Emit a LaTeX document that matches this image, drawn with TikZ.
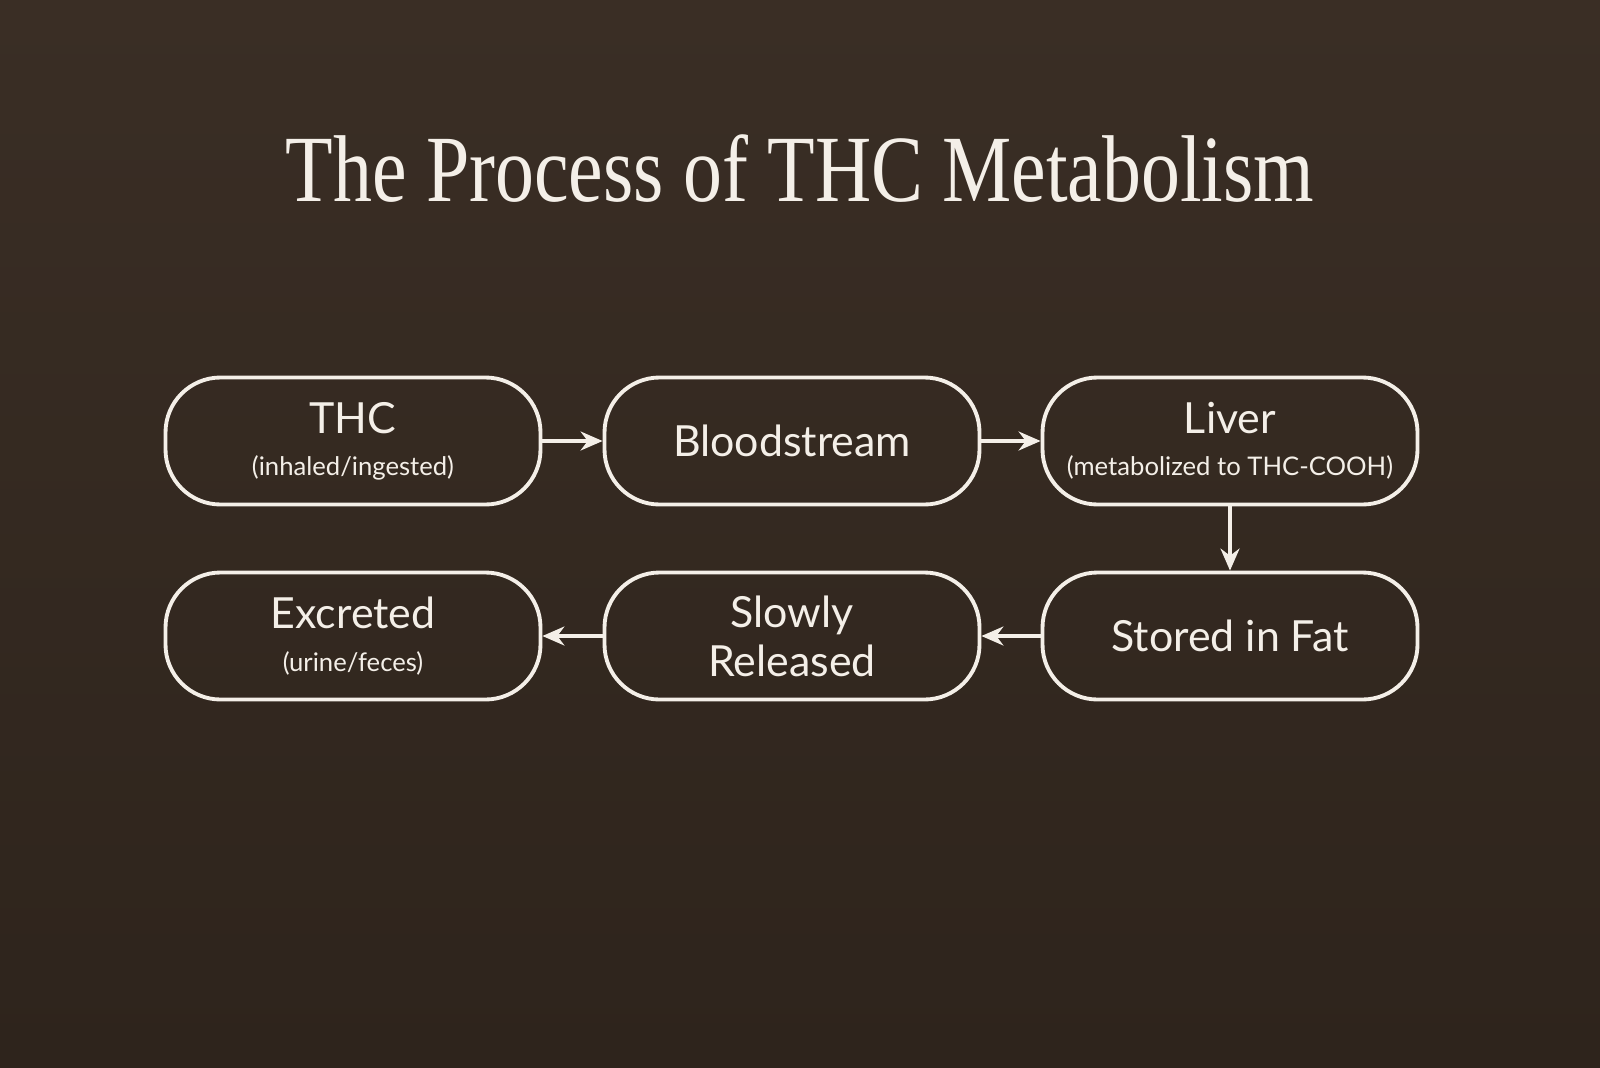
\documentclass[tikz,border=0pt]{standalone}
\usepackage{fontspec}
\usepackage{graphicx}
\setmainfont{Liberation Serif}
\setsansfont{Lato}
\usetikzlibrary{arrows.meta}
\definecolor{bgbrown}{HTML}{3A2E25}
\definecolor{bgdark}{HTML}{2E241C}
\definecolor{linecream}{HTML}{F4EFE8}
\tikzset{
    stage/.style={draw=linecream, line width=1.1pt, rounded corners=0.55cm,
        minimum width=3.75cm, minimum height=1.27cm, inner xsep=2pt, align=center,
        text=linecream, font=\sffamily\fontsize{12.2}{14}\selectfont},
    flow/.style={draw=linecream, line width=0.9pt, -{Stealth[length=2.2mm,width=1.9mm]}}
}
\newcommand{\subtext}[1]{\\[-2pt]{\fontsize{7.3}{9}\selectfont #1}}
\begin{document}
\begin{tikzpicture}
    % Background
    \shade[top color=bgbrown, bottom color=bgdark] (0,0) rectangle (16,10.67);
    \useasboundingbox (0,0) rectangle (16,10.67);

    % Title
    \node[text=linecream, font=\fontsize{27}{30}\selectfont] (title) at (8,8.98)
        {\scalebox{0.82}[1]{The Process of THC Metabolism}};

    % First row
    \node[stage] (thc) at (3.53,6.26) {THC\subtext{(inhaled/ingested)}};
    \node[stage] (blood) at (7.92,6.26) {Bloodstream};
    \node[stage] (liver) at (12.30,6.26) {Liver\subtext{(metabolized to THC-COOH)}};

    % Second row
    \node[stage] (fat) at (12.30,4.31) {Stored in Fat};
    \node[stage] (slow) at (7.92,4.31) {Slowly\\Released};
    \node[stage] (excr) at (3.53,4.31) {Excreted\subtext{(urine/feces)}};

    % Arrows
    \draw[flow] (thc) -- (blood);
    \draw[flow] (blood) -- (liver);
    \draw[flow] (liver) -- (fat);
    \draw[flow] (fat) -- (slow);
    \draw[flow] (slow) -- (excr);
\end{tikzpicture}
\end{document}
